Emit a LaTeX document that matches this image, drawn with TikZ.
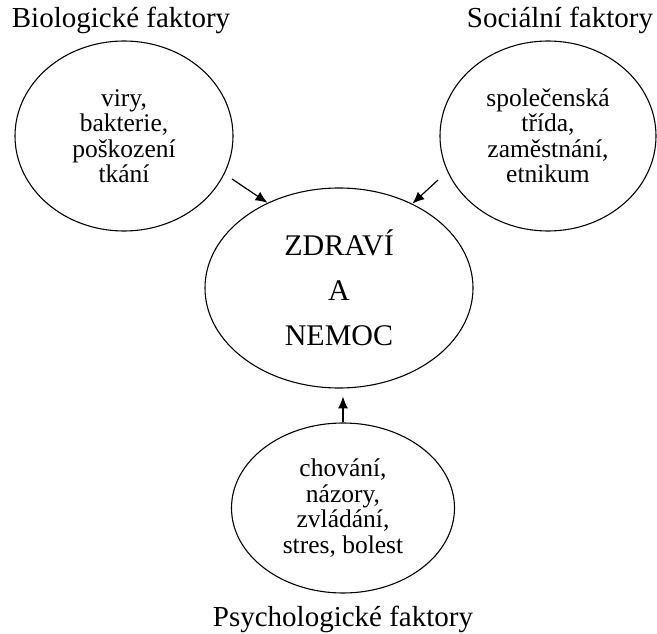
\documentclass[tikz,border=0pt]{standalone}
\usepackage{fontspec}
\setmainfont{Liberation Serif}
\usetikzlibrary{shapes.geometric,arrows.meta}

\begin{document}
\begin{tikzpicture}[x=1pt,y=-1pt,
    factor/.style={draw,ellipse,line width=1.1pt,inner sep=0pt,align=center,
      font=\fontsize{25.5}{25.5}\selectfont},
    heading/.style={anchor=base,inner sep=0pt,font=\fontsize{29}{30}\selectfont},
    arr/.style={-{Latex[length=12pt,width=10pt]},line width=1.2pt}]
      \useasboundingbox (0,0) rectangle (657,634);
      \node[factor,minimum width=218,minimum height=190] (bio) at (124,136) {viry,\\bakterie,\\poškození\\tkání};
      \node[factor,minimum width=216,minimum height=190] (soc) at (548,136) {společenská\\třída,\\zaměstnání,\\etnikum};
      \node[factor,minimum width=268,minimum height=200,font=\fontsize{30}{45}\selectfont] (health) at (339,288) {ZDRAVÍ\\A\\NEMOC};
      \node[factor,minimum width=223,minimum height=170] (psy) at (343,508) {chování,\\názory,\\zvládání,\\stres, bolest};
      \node[heading] (biolabel) at (121,28) {Biologické faktory};
      \node[heading] (soclabel) at (560,28) {Sociální faktory};
      \node[heading] (psylabel) at (343,626) {Psychologické faktory};
      \coordinate (biostart) at (232,179);
      \coordinate (socstart) at (438,180);
      \draw[arr] (biostart) -- (health.130);
      \draw[arr] (socstart) -- (health.49);
      \draw[arr] (psy.north) -- ++(0,-26);
    \end{tikzpicture}
\end{document}
